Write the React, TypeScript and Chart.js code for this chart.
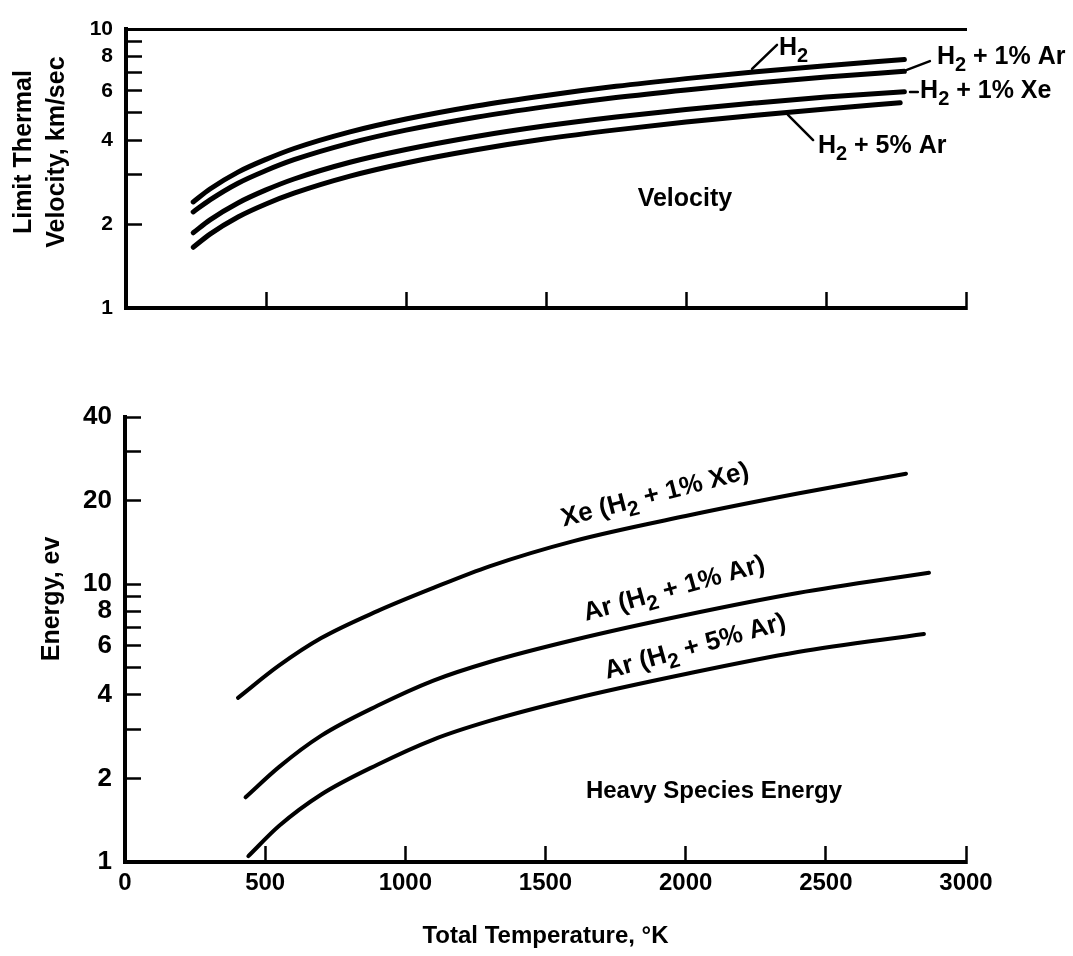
import React, { useEffect, useRef } from 'react';
import { Chart, registerables } from 'chart.js';

Chart.register(...registerables);

// ---------------- data ----------------
const VEL_TEMPS = [240, 300, 400, 500, 600, 800, 1000, 1250, 1500, 1750, 2000, 2250, 2500, 2780];
const VEL_AR5_TEMPS = [240, 300, 400, 500, 600, 800, 1000, 1250, 1500, 1750, 2000, 2250, 2500, 2765];
const VEL_H2 = [2.40, 2.67, 3.07, 3.41, 3.73, 4.28, 4.76, 5.30, 5.78, 6.23, 6.64, 7.03, 7.39, 7.78];
const VEL_H2_AR1 = [2.21, 2.44, 2.80, 3.11, 3.40, 3.90, 4.34, 4.83, 5.27, 5.68, 6.05, 6.40, 6.73, 7.05];
const VEL_H2_XE1 = [1.86, 2.07, 2.38, 2.65, 2.90, 3.33, 3.70, 4.12, 4.50, 4.84, 5.15, 5.43, 5.70, 5.96];
const VEL_H2_AR5 = [1.65, 1.84, 2.12, 2.36, 2.58, 2.97, 3.31, 3.69, 4.04, 4.35, 4.64, 4.91, 5.17, 5.44];

const XE_TEMPS = [403, 550, 700, 900, 1100, 1300, 1600, 2000, 2400, 2786];
const XE_ENERGY = [3.9, 5.1, 6.4, 8.0, 9.7, 11.6, 14.3, 17.6, 21.2, 25.0];
const AR1_TEMPS = [430, 550, 700, 900, 1100, 1300, 1600, 2000, 2400, 2868];
const AR1_ENERGY = [1.71, 2.2, 2.85, 3.65, 4.5, 5.25, 6.3, 7.75, 9.3, 11.0];
const AR5_TEMPS = [440, 550, 700, 900, 1100, 1300, 1600, 2000, 2400, 2850];
const AR5_ENERGY = [1.05, 1.35, 1.75, 2.24, 2.76, 3.22, 3.87, 4.75, 5.7, 6.62];

const TEMP_TICKS = [0, 500, 1000, 1500, 2000, 2500, 3000];
const TEMP_TICK_LABELS = ['0', '500', '1000', '1500', '2000', '2500', '3000'];
const VEL_TICKS = [1, 2, 3, 4, 5, 6, 7, 8, 9, 10];
const VEL_TICK_LABELS = ['1', '2', '', '4', '', '6', '', '8', '', '10'];
const ENERGY_TICKS = [1, 2, 3, 4, 5, 6, 7, 8, 9, 10, 20, 30, 40];
const ENERGY_TICK_LABELS = ['1', '2', '', '4', '', '6', '', '8', '', '10', '20', '', '40'];

const VEL_SERIES = ['H₂', 'H₂ + 1% Ar', 'H₂ + 1% Xe', 'H₂ + 5% Ar'];
const ENERGY_SERIES = ['Xe (H₂ + 1% Xe)', 'Ar (H₂ + 1% Ar)', 'Ar (H₂ + 5% Ar)'];

const X_TITLE = 'Total Temperature, °K';
const VEL_Y_TITLE = ['Limit Thermal', 'Velocity, km/sec'];
const ENERGY_Y_TITLE = ['Energy, ev'];

// text notes: "_2" marks a subscript digit; x/y in data units
type Note = { text: string; x: number; y: number; size: number; align: 'left' | 'center'; angle: number };
const VEL_NOTES: Note[] = [
  { text: 'H_2', x: 2332, y: 8.55, size: 25, align: 'left', angle: 0 },
  { text: 'H_2 + 1% Ar', x: 2896, y: 7.93, size: 25, align: 'left', angle: 0 },
  { text: 'H_2 + 1% Xe', x: 2836, y: 5.99, size: 25, align: 'left', angle: 0 },
  { text: 'H_2 + 5% Ar', x: 2471, y: 3.81, size: 25, align: 'left', angle: 0 },
  { text: 'Velocity', x: 1996, y: 2.46, size: 25, align: 'center', angle: 0 },
];
const VEL_LEADERS = [
  [2236, 7.19, 2325, 8.77],
  [2789, 7.14, 2871, 7.67],
  [2800, 5.95, 2828, 5.95],
  [2364, 4.92, 2454, 4.0],
];
const ENERGY_NOTES: Note[] = [
  { text: 'Xe (H_2 + 1% Xe)', x: 1891, y: 20.9, size: 26, align: 'center', angle: -14.5 },
  { text: 'Ar (H_2 + 1% Ar)', x: 1959, y: 9.6, size: 26, align: 'center', angle: -15.5 },
  { text: 'Ar (H_2 + 5% Ar)', x: 2034, y: 5.94, size: 26, align: 'center', angle: -15.5 },
  { text: 'Heavy Species Energy', x: 2101, y: 1.79, size: 24, align: 'center', angle: 0 },
];
const ENERGY_LEADERS: number[][] = [];

// ---------------- styling ----------------
const FONT = '"Liberation Sans", Arial, sans-serif';
const PAGE_W = 1073;
const TOP_H = 340;
const BOT_TOP = 380;
const BOT_H = 576;

function drawRich(ctx: CanvasRenderingContext2D, text: string, x: number, y: number, size: number, align: string) {
  const parts = text.split(/(_\d)/).filter((p) => p.length);
  const base = `bold ${size}px ${FONT}`;
  const sub = `bold ${Math.round(size * 0.8)}px ${FONT}`;
  let total = 0;
  const widths = parts.map((p) => {
    const isSub = p.startsWith('_');
    ctx.font = isSub ? sub : base;
    const w = ctx.measureText(isSub ? p.slice(1) : p).width;
    total += w;
    return w;
  });
  let cx = align === 'center' ? x - total / 2 : x;
  ctx.textBaseline = 'middle';
  ctx.textAlign = 'left';
  parts.forEach((p, i) => {
    const isSub = p.startsWith('_');
    ctx.font = isSub ? sub : base;
    ctx.fillText(isSub ? p.slice(1) : p, cx, isSub ? y + size * 0.33 : y);
    cx += widths[i];
  });
}

function notesPlugin(notes: Note[], leaders: number[][], yTitle: string[], yTitleValue: number, yTitleOffsets: number[], yTitleSize: number) {
  return {
    id: 'notes',
    afterDraw(chart: any) {
      const ctx: CanvasRenderingContext2D = chart.ctx;
      const xs = chart.scales.x;
      const ys = chart.scales.y;
      ctx.save();
      ctx.fillStyle = '#000';
      ctx.strokeStyle = '#000';
      ctx.lineWidth = 2.5;
      ctx.lineCap = 'round';
      leaders.forEach(([x1, y1, x2, y2]) => {
        ctx.beginPath();
        ctx.moveTo(xs.getPixelForValue(x1), ys.getPixelForValue(y1));
        ctx.lineTo(xs.getPixelForValue(x2), ys.getPixelForValue(y2));
        ctx.stroke();
      });
      notes.forEach((n) => {
        const px = xs.getPixelForValue(n.x);
        const py = ys.getPixelForValue(n.y);
        ctx.save();
        ctx.translate(px, py);
        ctx.rotate((n.angle * Math.PI) / 180);
        drawRich(ctx, n.text, 0, 0, n.size, n.align);
        ctx.restore();
      });
      // y-axis title
      const cy = ys.getPixelForValue(yTitleValue);
      yTitle.forEach((line, i) => {
        ctx.save();
        ctx.translate(chart.chartArea.left + yTitleOffsets[i], cy);
        ctx.rotate(-Math.PI / 2);
        ctx.font = `bold ${yTitleSize}px ${FONT}`;
        ctx.textAlign = 'center';
        ctx.textBaseline = 'middle';
        ctx.fillText(line, 0, 0);
        ctx.restore();
      });
      ctx.restore();
    },
  };
}

function series(label: string, xs: number[], ys: number[], width: number) {
  return {
    label,
    data: xs.map((x, i) => ({ x, y: ys[i] })),
    borderColor: '#000',
    backgroundColor: '#000',
    borderWidth: width,
    borderCapStyle: 'round',
    borderJoinStyle: 'round',
    pointRadius: 0,
    fill: false,
    cubicInterpolationMode: 'monotone',
  };
}

function xAxis(showLabels: boolean, height: number) {
  return {
    type: 'linear',
    position: 'bottom',
    min: 0,
    max: 3000,
    afterBuildTicks: (s: any) => {
      s.ticks = TEMP_TICKS.map((v) => ({ value: v }));
    },
    afterFit: (s: any) => {
      s.height = height;
    },
    ticks: {
      display: showLabels,
      color: '#000',
      padding: 23,
      maxRotation: 0,
      autoSkip: false,
      font: { family: FONT, size: 24, weight: 'bold' },
      callback: (_v: any, i: number) => TEMP_TICK_LABELS[i],
    },
    grid: { display: true, drawOnChartArea: false, drawTicks: true, tickLength: -16, tickWidth: 2.5, tickColor: '#000' },
    border: { display: true, color: '#000', width: 4 },
    title: showLabels
      ? { display: true, text: X_TITLE, color: '#000', font: { family: FONT, size: 24, weight: 'bold' }, padding: { top: 0, bottom: 5 } }
      : { display: false },
  };
}

function yAxis(max: number, ticks: number[], labels: string[], width: number, size: number) {
  return {
    type: 'logarithmic',
    position: 'left',
    min: 1,
    max,
    afterBuildTicks: (s: any) => {
      s.ticks = ticks.map((v) => ({ value: v }));
    },
    afterFit: (s: any) => {
      s.width = width;
      s.paddingTop = 0;
      s.paddingBottom = 0;
    },
    ticks: {
      color: '#000',
      padding: 29,
      autoSkip: false,
      font: { family: FONT, size, weight: 'bold' },
      callback: (_v: any, i: number) => labels[i],
    },
    grid: { display: true, drawOnChartArea: false, drawTicks: true, tickLength: -16, tickWidth: 2.5, tickColor: '#000' },
    border: { display: true, color: '#000', width: 4 },
  };
}

function topConfig(): any {
  return {
    type: 'line',
    data: {
      datasets: [
        series(VEL_SERIES[0], VEL_TEMPS, VEL_H2, 5),
        series(VEL_SERIES[1], VEL_TEMPS, VEL_H2_AR1, 5),
        series(VEL_SERIES[2], VEL_TEMPS, VEL_H2_XE1, 5),
        series(VEL_SERIES[3], VEL_AR5_TEMPS, VEL_H2_AR5, 5),
      ],
    },
    options: {
      responsive: false,
      animation: false,
      devicePixelRatio: 1,
      layout: { padding: { left: 0, right: 107, top: 29, bottom: 0 } },
      plugins: { legend: { display: false }, tooltip: { enabled: false } },
      scales: {
        x: xAxis(false, TOP_H - 308),
        xTop: {
          axis: 'x',
          type: 'linear',
          position: 'top',
          min: 0,
          max: 3000,
          afterFit: (s: any) => {
            s.height = 0;
          },
          ticks: { display: false },
          grid: { display: true, drawOnChartArea: false, drawTicks: false },
          border: { display: true, color: '#000', width: 3 },
        },
        y: yAxis(10, VEL_TICKS, VEL_TICK_LABELS, 126, 21),
      },
    },
    plugins: [notesPlugin(VEL_NOTES, VEL_LEADERS, VEL_Y_TITLE, 3.62, [-102, -69], 25)],
  };
}

function bottomConfig(): any {
  return {
    type: 'line',
    data: {
      datasets: [
        series(ENERGY_SERIES[0], XE_TEMPS, XE_ENERGY, 4),
        series(ENERGY_SERIES[1], AR1_TEMPS, AR1_ENERGY, 4),
        series(ENERGY_SERIES[2], AR5_TEMPS, AR5_ENERGY, 4),
      ],
    },
    options: {
      responsive: false,
      animation: false,
      devicePixelRatio: 1,
      layout: { padding: { left: 0, right: 107, top: 37, bottom: 0 } },
      plugins: { legend: { display: false }, tooltip: { enabled: false } },
      scales: {
        x: xAxis(true, BOT_H - 482),
        y: yAxis(40, ENERGY_TICKS, ENERGY_TICK_LABELS, 125, 26),
      },
    },
    plugins: [notesPlugin(ENERGY_NOTES, ENERGY_LEADERS, ENERGY_Y_TITLE, 8.85, [-73], 25)],
  };
}

function ChartCanvas({ top, height, make }: { top: number; height: number; make: () => any }) {
  const ref = useRef<HTMLCanvasElement | null>(null);
  useEffect(() => {
    const chart = new Chart(ref.current as HTMLCanvasElement, make());
    return () => chart.destroy();
  }, []);
  return (
    <canvas
      ref={ref}
      width={PAGE_W}
      height={height}
      style={{ position: 'absolute', left: 0, top, width: PAGE_W, height, display: 'block' }}
    />
  );
}

export default function App() {
  return (
    <div style={{ position: 'absolute', left: 0, top: 0, width: PAGE_W, height: 956, background: '#fff' }}>
      <ChartCanvas top={0} height={TOP_H} make={topConfig} />
      <ChartCanvas top={BOT_TOP} height={BOT_H} make={bottomConfig} />
    </div>
  );
}
